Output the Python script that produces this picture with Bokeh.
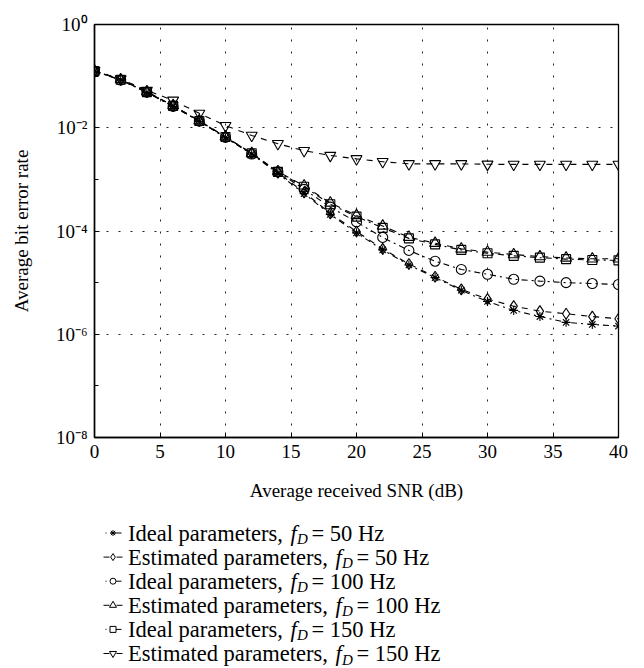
from bokeh.plotting import figure
from bokeh.models import Range1d, FixedTicker, CustomJSTickFormatter
from bokeh.layouts import column
from bokeh.embed import file_html
from bokeh.resources import INLINE
from bokeh.core.properties import value

# ---------------- data ----------------
snr = [0, 2, 4, 6, 8, 10, 12, 14, 16, 18, 20, 22, 24, 26, 28, 30, 32, 34, 36, 38, 40]

ideal_50 = [0.125, 0.084, 0.048, 0.026, 0.0133, 0.0064, 0.0031, 0.0013, 5.3e-4, 2.1e-4, 9.2e-5,
            4.3e-5, 2.2e-5, 1.25e-5, 7.1e-6, 4.3e-6, 2.9e-6, 2.2e-6, 1.7e-6, 1.55e-6, 1.44e-6]
est_50 = [0.126, 0.085, 0.049, 0.0265, 0.0135, 0.0066, 0.0032, 0.00135, 5.6e-4, 2.2e-4, 9.8e-5,
          4.5e-5, 2.3e-5, 1.3e-5, 7.4e-6, 4.8e-6, 3.5e-6, 2.8e-6, 2.5e-6, 2.2e-6, 2.0e-6]
ideal_100 = [0.125, 0.084, 0.049, 0.026, 0.0134, 0.0065, 0.0031, 0.0014, 6.4e-4, 2.9e-4, 1.5e-4,
             7.5e-5, 4.2e-5, 2.6e-5, 1.8e-5, 1.45e-5, 1.16e-5, 1.07e-5, 1.0e-5, 9.6e-6, 9.2e-6]
est_100 = [0.127, 0.086, 0.050, 0.027, 0.0137, 0.0067, 0.0032, 0.00142, 7.5e-4, 3.5e-4, 2.0e-4,
           1.25e-4, 7.6e-5, 5.8e-5, 4.5e-5, 3.9e-5, 3.5e-5, 3.2e-5, 3.0e-5, 2.9e-5, 2.9e-5]
ideal_150 = [0.126, 0.085, 0.049, 0.0265, 0.0135, 0.0066, 0.0032, 0.0014, 7.2e-4, 3.3e-4, 1.9e-4,
             1.15e-4, 7.2e-5, 5.5e-5, 4.3e-5, 3.7e-5, 3.3e-5, 3.05e-5, 2.85e-5, 2.75e-5, 2.7e-5]
est_150 = [0.127, 0.088, 0.053, 0.034, 0.019, 0.011, 0.0071, 0.0049, 0.0036, 0.0029, 0.0025,
           0.0022, 0.0020, 0.0020, 0.0020, 0.00196, 0.00195, 0.00195, 0.00195, 0.00195, 0.00195]

series = [ideal_50, est_50, ideal_100, est_100, ideal_150, est_150]
label_prefix = ["Ideal parameters, ", "Estimated parameters, ", "Ideal parameters, ",
                "Estimated parameters, ", "Ideal parameters, ", "Estimated parameters, "]
label_freq = ["50", "50", "100", "100", "150", "150"]
markers = ["asterisk", "diamond", "circle", "triangle", "square", "inverted_triangle"]
marker_sizes = [9, 11, 10, 11, 9, 11]
dashes = ["dashdot", "dashed", "dashdot", "dashed", "dashdot", "dashed"]

x_ticks = [0, 5, 10, 15, 20, 25, 30, 35, 40]
y_major = [1e-8, 1e-6, 1e-4, 1e-2, 1]
y_minor = [1e-7, 1e-5, 1e-3, 1e-1]

FONT = "Liberation Serif"
TICK_SIZE = "19px"
LABEL_SIZE = "19px"
LEG_SIZE = "22.5px"

BL, BR = 94, 26   # left / right borders (frame from x=94 to x=618)

# ---------------- main plot ----------------
p = figure(width=644, height=510, x_range=Range1d(0, 40), y_range=Range1d(1e-8, 1),
           y_axis_type="log", output_backend="svg", toolbar_location=None,
           min_border_left=BL, min_border_right=BR, min_border_top=24, min_border_bottom=73)
p.background_fill_color = "white"
p.border_fill_color = "white"
p.outline_line_color = "black"
p.outline_line_width = 1.3

sup_fmt = CustomJSTickFormatter(code="""
const e = Math.round(Math.log10(tick));
const m = {'-':'\u207b','0':'\u2070','1':'\u00b9','2':'\u00b2','3':'\u00b3','4':'\u2074',
           '5':'\u2075','6':'\u2076','7':'\u2077','8':'\u2078','9':'\u2079'};
return '10' + String(e).split('').map(c => m[c]).join('');
""")

xax = p.xaxis[0]
xax.ticker = FixedTicker(ticks=x_ticks, minor_ticks=[])
xax.axis_label = "Average received SNR (dB)"
yax = p.yaxis[0]
yax.ticker = FixedTicker(ticks=y_major, minor_ticks=y_minor)
yax.formatter = sup_fmt
yax.axis_label = "Average bit error rate"

for ax in (xax, yax):
    ax.axis_line_color = "black"
    ax.axis_line_width = 1.5
    ax.major_tick_in = 5
    ax.major_tick_out = 0
    ax.minor_tick_in = 4
    ax.minor_tick_out = 0
    ax.major_tick_line_color = "black"
    ax.minor_tick_line_color = "black"
    ax.major_label_text_font = FONT
    ax.major_label_text_font_size = TICK_SIZE
    ax.major_label_text_color = "black"
    ax.axis_label_text_font = FONT
    ax.axis_label_text_font_size = LABEL_SIZE
    ax.axis_label_text_font_style = "normal"
    ax.axis_label_text_color = "black"
xax.major_label_standoff = 7
xax.axis_label_standoff = 19
yax.major_label_standoff = 7
yax.axis_label_standoff = 21

p.xgrid.ticker = FixedTicker(ticks=x_ticks, minor_ticks=[])
p.ygrid.ticker = FixedTicker(ticks=y_major, minor_ticks=[])
for g in (p.xgrid[0], p.ygrid[0]):
    g.grid_line_color = "#222222"
    g.grid_line_dash = "2 10"
    g.grid_line_width = 1

for vals, mk, ms, dsh in zip(series, markers, marker_sizes, dashes):
    p.line(snr, vals, line_color="black", line_width=1.1, line_dash=dsh)
    p.scatter(snr, vals, marker=mk, size=ms, line_color="black", line_width=1.1,
              fill_color=None)

# ---------------- legend (separate figure, page-pixel coordinates) ----------------
LW, LH = 644, 158
leg = figure(width=LW, height=LH, x_range=Range1d(BL, LW - BR), y_range=Range1d(0, LH),
             output_backend="svg", toolbar_location=None,
             min_border_left=BL, min_border_right=BR, min_border_top=0, min_border_bottom=0,
             x_axis_location=None, y_axis_location=None)
leg.grid.visible = False
leg.outline_line_color = None
leg.background_fill_color = "white"
leg.border_fill_color = "white"

row_y = [135.5, 111.4, 87.3, 63.2, 39.1, 15.0]
for i in range(6):
    y = row_y[i]
    est = label_prefix[i].startswith("Estimated")
    if est:
        leg.line([103, 122], [y, y], line_color="black", line_width=1, line_dash="6 7")
    else:
        leg.line([105, 121], [y, y], line_color="black", line_width=1, line_dash="1 4 20 1")
    leg.scatter([112.5], [y], marker=markers[i], size=max(marker_sizes[i] - 4, 6),
                line_color="black", line_width=1,
                fill_color="white" if markers[i] != "asterisk" else None)
    xf = 335 if est else 290
    leg.text([127.5], [y], text=[label_prefix[i]], text_font=value(FONT),
             text_font_size=LEG_SIZE, text_baseline="middle", text_align="left", text_color="black")
    leg.text([xf], [y], text=["f"], text_font=value(FONT), text_font_style="italic",
             text_font_size=LEG_SIZE, text_baseline="middle", text_align="left", text_color="black")
    leg.text([xf + 6.5], [y - 6], text=["D"], text_font=value(FONT), text_font_style="italic",
             text_font_size="15px", text_baseline="middle", text_align="left", text_color="black")
    leg.text([xf + 21], [y], text=["= " + label_freq[i] + " Hz"], text_font=value(FONT),
             text_font_size=LEG_SIZE, text_baseline="middle", text_align="left", text_color="black")

layout = column(p, leg, spacing=0)
open("out.html", "w").write(file_html(layout, INLINE))
